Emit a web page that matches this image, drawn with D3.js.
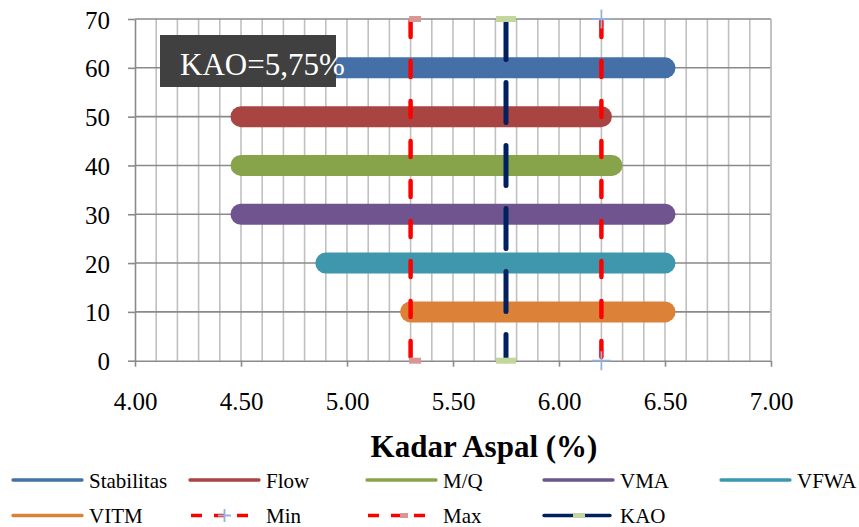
<!DOCTYPE html>
<html>
<head>
<meta charset="utf-8">
<script src="https://cdn.jsdelivr.net/npm/d3@7"></script>
<style>
  body { margin: 0; background: #fff; }
  svg text { font-family: "Liberation Serif", "Times New Roman", serif !important; }
</style>
</head>
<body>
<svg id="chart" width="859" height="527"></svg>
<script>
// ─── Data ────────────────────────────────────────────────
const seriesNames = ['Stabilitas', 'Flow', 'M/Q', 'VMA', 'VFWA', 'VITM'];
const seriesColors = ['#4470a7', '#a84441', '#87a44a', '#6f5490', '#3e97ad', '#db8138'];
const rangeStart = [4.50, 4.50, 4.50, 4.50, 4.90, 5.30];
const rangeEnd = [6.50, 6.20, 6.25, 6.50, 6.50, 6.50];
const rangeLevel = [60, 50, 40, 30, 20, 10];

const minValue = 6.20;   // "Min" series (drawn at 6.2 in the source)
const maxValue = 5.30;   // "Max" series
const kaoValue = 5.75;
const levelExtent = [0, 70];

const xTicks = [4.0, 4.5, 5.0, 5.5, 6.0, 6.5, 7.0];
const xMinorTicks = d3.range(41, 71).map(d => d / 10);
const yTicks = [0, 10, 20, 30, 40, 50, 60, 70];
const kaoLabel = 'KAO=5,75%';
const xTitle = 'Kadar Aspal (%)';

const legendRows = [
  ['Stabilitas', 'Flow', 'M/Q', 'VMA', 'VFWA'],
  ['VITM', 'Min', 'Max', 'KAO'],
];

// ─── Scales ──────────────────────────────────────────────
const svg = d3.select('#chart');
const x = d3.scaleLinear().domain([4, 7]).range([135, 771]);
const y = d3.scaleLinear().domain(levelExtent).range([360.7, 19]);

const RED = '#ff0000', NAVY = '#002060';
const KAO_MARK = '#c3d69b', MAX_MARK = '#d99694', MIN_MARK = '#95b3d7';

// ─── Gridlines ───────────────────────────────────────────
svg.append('g').selectAll('line')
  .data(xMinorTicks).join('line')
  .attr('x1', d => x(d)).attr('x2', d => x(d))
  .attr('y1', y(70)).attr('y2', y(0))
  .attr('stroke', '#c0c0c0').attr('stroke-width', 1.6);

svg.append('g').selectAll('line')
  .data(yTicks.slice(1)).join('line')
  .attr('x1', x(4)).attr('x2', x(7))
  .attr('y1', d => y(d)).attr('y2', d => y(d))
  .attr('stroke', '#8a8a8a').attr('stroke-width', 1.6);

// ─── Axes ────────────────────────────────────────────────
const xAxis = svg.append('g')
  .attr('transform', `translate(0,${y(0)})`)
  .call(d3.axisBottom(x).tickValues(xTicks).tickSize(6).tickSizeOuter(0).tickFormat(d3.format('.2f')));
xAxis.select('.domain').attr('stroke', '#8a8a8a').attr('stroke-width', 1.6);
xAxis.selectAll('.tick line').attr('stroke', '#8a8a8a').attr('stroke-width', 1.6);
xAxis.selectAll('.tick text')
  .attr('y', 49.5).attr('dy', 0)
  .style('font-size', '25px').attr('fill', '#000');

const yAxis = svg.append('g')
  .attr('transform', `translate(${x(4)},0)`)
  .call(d3.axisLeft(y).tickValues(yTicks).tickSize(7).tickSizeOuter(0).tickPadding(18));
yAxis.select('.domain').attr('stroke', '#8a8a8a').attr('stroke-width', 1.6);
yAxis.selectAll('.tick line').attr('stroke', '#8a8a8a').attr('stroke-width', 1.6);
yAxis.selectAll('.tick text')
  .attr('dy', '0.36em')
  .style('font-size', '25px').attr('fill', '#000');

// right border
svg.append('line')
  .attr('x1', x(7)).attr('x2', x(7)).attr('y1', y(70)).attr('y2', y(0))
  .attr('stroke', '#c0c0c0').attr('stroke-width', 1.6);

// ─── Range bars ──────────────────────────────────────────
svg.append('g').selectAll('line')
  .data(seriesNames).join('line')
  .attr('x1', (d, i) => x(rangeStart[i]))
  .attr('x2', (d, i) => x(rangeEnd[i]))
  .attr('y1', (d, i) => y(rangeLevel[i]))
  .attr('y2', (d, i) => y(rangeLevel[i]))
  .attr('stroke', (d, i) => seriesColors[i])
  .attr('stroke-width', 21)
  .attr('stroke-linecap', 'round');

// ─── Min / Max / KAO verticals ───────────────────────────
function vline(v, color, width, dash, offset) {
  svg.append('line')
    .attr('x1', x(v)).attr('x2', x(v))
    .attr('y1', y(70)).attr('y2', y(0))
    .attr('stroke', color).attr('stroke-width', width)
    .attr('stroke-dasharray', dash).attr('stroke-dashoffset', offset)
    .attr('stroke-linecap', 'round');
}
vline(maxValue, RED, 4.5, '16 24', 38);
vline(minValue, RED, 4.5, '16 24', 38);
vline(kaoValue, NAVY, 5, '40 23', -0.5);

// markers at both ends
[70, 0].forEach(lv => {
  svg.append('rect')
    .attr('x', x(maxValue) - 1.5).attr('y', y(lv) - 3)
    .attr('width', 12).attr('height', 6)
    .attr('fill', MAX_MARK);
  svg.append('rect')
    .attr('x', x(kaoValue) - 10).attr('y', y(lv) - 3)
    .attr('width', 20).attr('height', 6)
    .attr('fill', KAO_MARK);
  const cx = x(minValue), cy = y(lv);
  svg.append('path')
    .attr('d', `M${cx - 9.5},${cy}H${cx + 9.5}M${cx},${cy - 9.5}V${cy + 9.5}`)
    .attr('stroke', MIN_MARK).attr('stroke-width', 1.8).attr('fill', 'none');
});

// ─── KAO label ───────────────────────────────────────────
svg.append('rect')
  .attr('x', 160).attr('y', 35).attr('width', 176).attr('height', 52)
  .attr('fill', '#404040');
svg.append('text')
  .attr('x', 180).attr('y', 75)
  .style('font-size', '31px').attr('fill', '#fff')
  .text(kaoLabel);

// ─── Axis title ──────────────────────────────────────────
svg.append('text')
  .attr('x', 484).attr('y', 457)
  .attr('text-anchor', 'middle')
  .style('font-size', '31px').style('font-weight', 'bold')
  .text(xTitle);

// ─── Legend ──────────────────────────────────────────────
const legendX = i => 13 + i * 177;
const legendY = [480, 515.5];

legendRows.forEach((row, r) => {
  row.forEach((name, c) => {
    const g = svg.append('g').attr('transform', `translate(${legendX(c)},${legendY[r]})`);
    const si = seriesNames.indexOf(name);
    if (si >= 0) {
      g.append('line').attr('x1', 0).attr('x2', 69)
        .attr('stroke', seriesColors[si]).attr('stroke-width', 3.3)
        .attr('stroke-linecap', 'round');
    } else if (name === 'Min' || name === 'Max') {
      g.append('line').attr('x1', 1).attr('x2', 69)
        .attr('stroke', RED).attr('stroke-width', 3.5)
        .attr('stroke-dasharray', '11 12');
      if (name === 'Min') {
        g.append('path').attr('d', 'M28,0H41M34.5,-6.5V6.5')
          .attr('stroke', MIN_MARK).attr('stroke-width', 1.8);
      } else {
        g.append('rect').attr('x', 33).attr('y', -2.5).attr('width', 8).attr('height', 5)
          .attr('fill', MAX_MARK);
      }
    } else if (name === 'KAO') {
      g.append('line').attr('x1', 0).attr('x2', 66)
        .attr('stroke', NAVY).attr('stroke-width', 3.3)
        .attr('stroke-linecap', 'round');
      g.append('rect').attr('x', 29).attr('y', -2.2).attr('width', 12).attr('height', 4.4)
        .attr('fill', KAO_MARK);
    }
    g.append('text').attr('x', 76).attr('y', 7.5)
      .style('font-size', '21px').attr('fill', '#000')
      .text(name);
  });
});
</script>
</body>
</html>
